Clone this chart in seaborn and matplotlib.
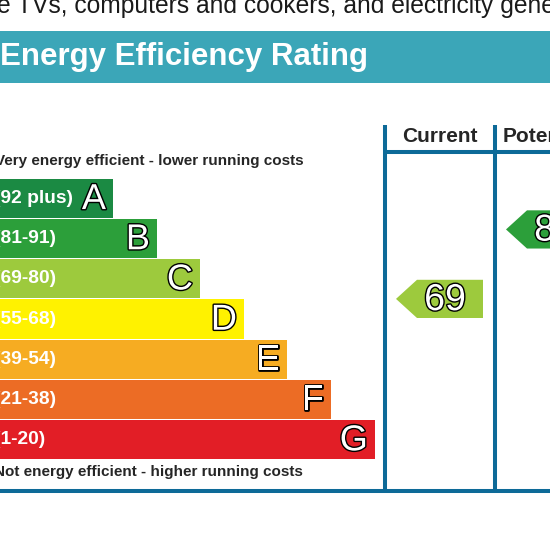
import seaborn as sns
import matplotlib.pyplot as plt
from matplotlib.patches import Rectangle, Polygon
import matplotlib.patheffects as pe

# rating bands (top = most efficient)
bands = ["A", "B", "C", "D", "E", "F", "G"]
band_ranges = ["(92 plus)", "(81-91)", "(69-80)", "(55-68)", "(39-54)", "(21-38)", "(1-20)"]
band_low = [92, 81, 69, 55, 39, 21, 1]
band_high = [100, 91, 80, 68, 54, 38, 20]
bar_length = [113, 157, 200, 244, 287, 331, 375]
band_colors = ["#1b8a43", "#2c9f3a", "#9dca3d", "#fff200", "#f6ac22", "#ec6c25", "#e21e26"]

# current / potential scores
columns = ["Current", "Potential"]
scores = [69, 89]

top_note = "e TVs, computers and cookers, and electricity generated"
title = "Energy Efficiency Rating"
top_label = "Very energy efficient - lower running costs"
bottom_label = "Not energy efficient - higher running costs"

TEAL = "#3ba6b8"
BLUE = "#0d6a98"
FONT = "Liberation Sans"

sns.set_style("white")
plt.rcParams["font.family"] = [FONT, "DejaVu Sans"]

fig = plt.figure(figsize=(5.5, 5.5), dpi=100)

# background axes in pixel coordinates
bg = fig.add_axes([0, 0, 1, 1])
bg.set_xlim(0, 550)
bg.set_ylim(550, 0)
bg.axis("off")

bg.text(-3, 12.5, top_note, fontsize=17.7, color="#1a1a1a", va="baseline", ha="left")
bg.add_patch(Rectangle((0, 31), 550, 52, color=TEAL, lw=0))
bg.text(0, 57.5, title, fontsize=22.5, fontweight="bold", color="white", va="center", ha="left")

# frame lines
lw = 2.9
bg.plot([384.5, 384.5], [125, 491], color=BLUE, lw=lw, solid_capstyle="butt")
bg.plot([494.5, 494.5], [125, 491], color=BLUE, lw=lw, solid_capstyle="butt")
bg.plot([384.5, 550], [152, 152], color=BLUE, lw=lw, solid_capstyle="butt")
bg.plot([0, 550], [490.5, 490.5], color=BLUE, lw=lw, solid_capstyle="butt")

col_left = [386, 496]
for name, left in zip(columns, col_left):
    if name == "Current":
        bg.text(left + 54, 137, name, fontsize=15, fontweight="bold", ha="center", va="center")
    else:
        bg.text(left + 7, 137, name, fontsize=15, fontweight="bold", ha="left", va="center")

bg.text(-5, 161, top_label, fontsize=11, fontweight="bold", va="center", ha="left")
bg.text(-6, 472, bottom_label, fontsize=11, fontweight="bold", va="center", ha="left")

# bar axes: rows are bands, x in pixels
ax = fig.add_axes([0, 1 - 459.75 / 550, 1, 281.5 / 550])
sns.barplot(x=bar_length, y=bands, hue=bands, palette=band_colors, legend=False,
            orient="h", width=0.97, saturation=1, linewidth=0, ax=ax)
ax.set_xlim(0, 550)
ax.set_ylim(6.5, -0.5)
ax.axis("off")

outline = [pe.withStroke(linewidth=2, foreground="black")]
for i, (b, r, L) in enumerate(zip(bands, band_ranges, bar_length)):
    ax.text(-6, i, r, fontsize=13.8, fontweight="bold", color="white",
            va="center", ha="left", clip_on=False)
    ax.text(L - 7, i + 0.03, b, fontsize=26, color="white", va="center", ha="right",
            path_effects=outline)


def score_row(s):
    for i in range(len(bands)):
        if band_low[i] <= s <= band_high[i]:
            return i, i + 0.5 - (s - band_low[i]) / (band_high[i] - band_low[i] + 1)
    return 6, 6


for s, left in zip(scores, col_left):
    idx, yc = score_row(s)
    h = 0.475
    tip = left + 10
    body = tip + 21
    right = left + 97
    ax.add_patch(Polygon([(tip, yc), (body, yc - h), (right, yc - h), (right, yc + h), (body, yc + h)],
                         closed=True, color=band_colors[idx], lw=0, clip_on=False))
    ax.text(left + 59, yc + 0.03, str(s), fontsize=27, color="white", va="center", ha="center",
            path_effects=outline, clip_on=False)

fig.savefig("out.png", dpi=100)
